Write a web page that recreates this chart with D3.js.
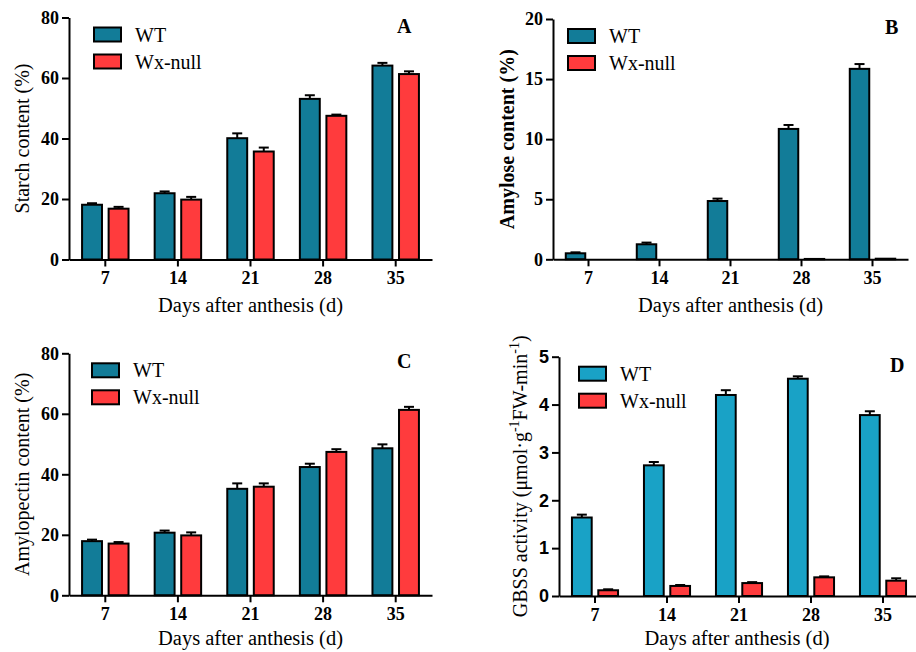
<!DOCTYPE html>
<html>
<head>
<meta charset="utf-8">
<script src="https://cdn.jsdelivr.net/npm/d3@7"></script>
<style>
  body { margin: 0; background: #fff; }
  svg { display: block; }
</style>
</head>
<body>
<svg id="chart" width="916" height="652"></svg>
<script>
// data
const days = ['7', '14', '21', '28', '35'];
const groups = ['WT', 'Wx-null'];

const starchWT = [18.1, 21.9, 40.1, 53.1, 64.1];
const starchWTErr = [0.5, 0.6, 1.6, 1.2, 0.9];
const starchWx = [16.8, 19.8, 35.7, 47.5, 61.3];
const starchWxErr = [0.6, 0.9, 1.3, 0.4, 0.9];

const amyloseWT = [0.5, 1.25, 4.85, 10.85, 15.85];
const amyloseWTErr = [0.08, 0.14, 0.2, 0.33, 0.4];
const amyloseWx = [0, 0, 0, 0.03, 0.05];
const amyloseWxErr = [0, 0, 0, 0, 0];

const pectinWT = [17.9, 20.7, 35.2, 42.4, 48.6];
const pectinWTErr = [0.5, 0.7, 1.8, 1.1, 1.3];
const pectinWx = [17.1, 19.8, 35.9, 47.4, 61.3];
const pectinWxErr = [0.5, 1.0, 1.1, 0.9, 1.0];

const gbssWT = [1.64, 2.73, 4.2, 4.54, 3.78];
const gbssWTErr = [0.06, 0.07, 0.1, 0.05, 0.08];
const gbssWx = [0.12, 0.21, 0.27, 0.39, 0.32];
const gbssWxErr = [0.02, 0.02, 0.02, 0.02, 0.05];

const serif = '"Liberation Serif", "Times New Roman", serif';
const sans = '"Liberation Sans", Arial, sans-serif';
const red = '#ff3b3d';

const panels = [
  { letter: 'A', wt: starchWT, wtErr: starchWTErr, wx: starchWx, wxErr: starchWxErr,
    max: 80, step: 20, x0: 69, x1: 432, yTop: 17.5, yBot: 259.5, wtColor: '#127c98',
    yLabel: 'Starch content (%)', yLabelBold: false, yLabelX: 29, tickFont: serif,
    legendX: 94, letterX: 397, xTitleY: 312 },
  { letter: 'B', wt: amyloseWT, wtErr: amyloseWTErr, wx: amyloseWx, wxErr: amyloseWxErr,
    max: 20, step: 5, x0: 553, x1: 908, yTop: 19, yBot: 259.3, wtColor: '#127c98',
    yLabel: 'Amylose content (%)', yLabelBold: true, yLabelX: 514, tickFont: serif,
    legendX: 568, letterX: 885, xTitleY: 312 },
  { letter: 'C', wt: pectinWT, wtErr: pectinWTErr, wx: pectinWx, wxErr: pectinWxErr,
    max: 80, step: 20, x0: 69, x1: 432, yTop: 353.3, yBot: 595.3, wtColor: '#127c98',
    yLabel: 'Amylopectin content (%)', yLabelBold: false, yLabelX: 29, tickFont: serif,
    legendX: 92, letterX: 397, xTitleY: 645 },
  { letter: 'D', wt: gbssWT, wtErr: gbssWTErr, wx: gbssWx, wxErr: gbssWxErr,
    max: 5, step: 1, x0: 559, x1: 919, yTop: 356.7, yBot: 596, wtColor: '#19a2c6',
    yLabel: null, yLabelBold: false, yLabelX: 527, tickFont: sans,
    legendX: 579, letterX: 890, xTitleY: 645 }
];

const svg = d3.select('#chart');

panels.forEach(p => {
  const g = svg.append('g');

  const x = d3.scaleBand().domain(days).range([p.x0, p.x1]).padding(0);
  const sub = d3.scaleBand().domain(groups)
    .range([x.bandwidth() * 0.18, x.bandwidth() * 0.82]).paddingInner(0.25);
  const y = d3.scaleLinear().domain([0, p.max]).range([p.yBot, p.yTop]);

  const rows = [];
  days.forEach((d, i) => {
    rows.push({ day: d, grp: 'WT', v: p.wt[i], e: p.wtErr[i], color: p.wtColor });
    rows.push({ day: d, grp: 'Wx-null', v: p.wx[i], e: p.wxErr[i], color: red });
  });
  const shown = rows.filter(r => r.v > 0);

  // bars
  g.selectAll('rect.bar')
    .data(shown)
    .join('rect')
    .attr('class', 'bar')
    .attr('x', d => x(d.day) + sub(d.grp))
    .attr('width', sub.bandwidth())
    .attr('y', d => y(d.v))
    .attr('height', d => y(0) - y(d.v))
    .attr('fill', d => d.color)
    .attr('stroke', '#000')
    .attr('stroke-width', 2);

  // error bars (upper only)
  const withErr = shown.filter(r => r.e > 0);
  const cx = d => x(d.day) + sub(d.grp) + sub.bandwidth() / 2;
  g.selectAll('line.err')
    .data(withErr)
    .join('line')
    .attr('class', 'err')
    .attr('x1', cx).attr('x2', cx)
    .attr('y1', d => y(d.v)).attr('y2', d => y(d.v + d.e))
    .attr('stroke', '#000').attr('stroke-width', 2);
  g.selectAll('line.cap')
    .data(withErr)
    .join('line')
    .attr('class', 'cap')
    .attr('x1', d => cx(d) - 5).attr('x2', d => cx(d) + 5)
    .attr('y1', d => y(d.v + d.e)).attr('y2', d => y(d.v + d.e))
    .attr('stroke', '#000').attr('stroke-width', 2);

  // axes
  const yAxis = g.append('g')
    .attr('transform', `translate(${p.x0},0)`)
    .call(d3.axisLeft(y).tickValues(d3.range(0, p.max + p.step / 2, p.step))
      .tickFormat(d3.format('d'))
      .tickSize(7).tickSizeOuter(0).tickPadding(3));
  yAxis.selectAll('text')
    .style('font-family', p.tickFont)
    .style('font-weight', 'bold')
    .style('font-size', '18px')
    .attr('fill', '#000');

  const xAxis = g.append('g')
    .attr('transform', `translate(0,${p.yBot})`)
    .call(d3.axisBottom(x).tickSize(7).tickSizeOuter(0).tickPadding(5));
  xAxis.selectAll('text')
    .style('font-family', serif)
    .style('font-weight', 'bold')
    .style('font-size', '18px')
    .attr('fill', '#000');

  [yAxis, xAxis].forEach(a => {
    a.select('.domain').attr('stroke', '#000').attr('stroke-width', 2);
    a.selectAll('.tick line').attr('stroke', '#000').attr('stroke-width', 2);
  });

  // axis titles
  g.append('text')
    .attr('x', (p.x0 + p.x1) / 2 - (p.letter === 'D' ? 2 : 0))
    .attr('y', p.xTitleY)
    .attr('text-anchor', 'middle')
    .style('font-family', serif).style('font-size', '20.5px')
    .text('Days after anthesis (d)');

  const yt = g.append('text')
    .attr('transform', `translate(${p.yLabelX},${(p.yTop + p.yBot) / 2}) rotate(-90)`)
    .attr('text-anchor', 'middle')
    .style('font-family', serif).style('font-size', '20px')
    .style('font-weight', p.yLabelBold ? 'bold' : 'normal');
  if (p.yLabel) {
    yt.text(p.yLabel);
  } else {
    yt.append('tspan').text('GBSS activity (\u03bcmol\u00b7g');
    yt.append('tspan').attr('dy', -8).style('font-size', '14px').text('-1');
    yt.append('tspan').attr('dy', 8).text('FW-min');
    yt.append('tspan').attr('dy', -8).style('font-size', '14px').text('-1');
    yt.append('tspan').attr('dy', 8).text(')');
  }

  // legend
  const legendTop = p.yTop + 10;
  const leg = g.selectAll('g.leg')
    .data(groups)
    .join('g')
    .attr('class', 'leg')
    .attr('transform', (d, i) => `translate(${p.legendX},${legendTop + i * 27})`);
  leg.append('rect')
    .attr('width', 27).attr('height', 14)
    .attr('fill', d => d === 'WT' ? p.wtColor : red)
    .attr('stroke', '#000').attr('stroke-width', 2);
  leg.append('text')
    .attr('x', 41).attr('y', 14)
    .style('font-family', serif).style('font-size', '20px')
    .text(d => d);

  // panel letter
  g.append('text')
    .attr('x', p.letterX).attr('y', p.yTop + 15)
    .style('font-family', serif).style('font-size', '20px').style('font-weight', 'bold')
    .text(p.letter);
});
</script>
</body>
</html>
